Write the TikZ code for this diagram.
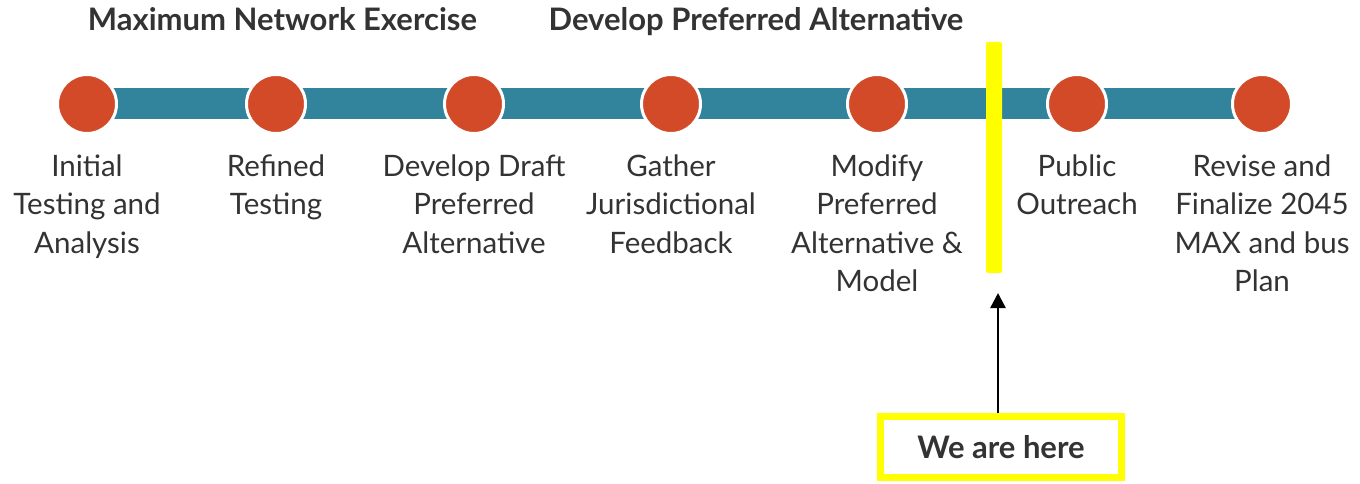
\documentclass[tikz,border=0pt]{standalone}
\usepackage{fontspec}
\setmainfont{Lato}
\usetikzlibrary{positioning,arrows.meta,backgrounds}
\definecolor{barteal}{HTML}{31849B}
\definecolor{stationred}{HTML}{D24A27}
\definecolor{textgray}{HTML}{333333}
\definecolor{markyellow}{HTML}{FFFF00}

\begin{document}
\begin{tikzpicture}[
        x=1pt, y=1pt,
        >={Triangle[length=15pt,width=15pt]},
        node distance=19pt,
        station/.style={circle, fill=stationred, draw=white, line width=3pt, minimum size=59pt, inner sep=0pt},
        steplabel/.style={align=center, text=textgray, inner sep=0pt,
            font=\fontsize{29.5}{38.5}\selectfont, execute at begin node=\strut},
        phase/.style={text=textgray, inner sep=0pt, anchor=base,
            font=\fontsize{31}{34}\selectfont\bfseries},
        semithick
        ]
        \useasboundingbox (0,0) rectangle (1360,483);

        % stations along the line
        \foreach \x [count=\i] in {87,276,474,671,877,1077,1262}
            \node[station] (s\i) at (\x,379) {};
        \begin{scope}[on background layer]
            \draw[barteal, line width=31pt] (s1.center) -- (s7.center);
        \end{scope}

        \node[steplabel, below=of s1] (l1) {Initial\\Testing and\\Analysis};
        \node[steplabel, below=of s2] (l2) {Refined\\Testing};
        \node[steplabel, below=of s3] (l3) {Develop Draft\\Preferred\\Alternative};
        \node[steplabel, below=of s4] (l4) {Gather\\Jurisdictional\\Feedback};
        \node[steplabel, below=of s5] (l5) {Modify\\Preferred\\Alternative \&\\Model};
        \node[steplabel, below=of s6] (l6) {Public\\Outreach};
        \node[steplabel, below=of s7] (l7) {Revise and\\Finalize 2045\\MAX and bus\\Plan};

        % phases
        \node[phase] (p1) at (282.5,452) {Maximum Network Exercise};
        \node[phase] (p2) at (756,452) {Develop Preferred Alternative};

        % current position
        \node[fill=markyellow, rounded corners=2pt, minimum width=16pt, minimum height=231pt, inner sep=0pt] (now) at (994,325.5) {};
        \node[draw=markyellow, line width=7pt, minimum width=241pt, minimum height=61pt,
            text=textgray, font=\fontsize{31}{34}\selectfont\bfseries] (here) at (1001,36) {We are here};
        \coordinate (tip) at (998,190);
        \draw[->, line width=2.5pt] (tip |- here.north) -- (tip);
\end{tikzpicture}
\end{document}
